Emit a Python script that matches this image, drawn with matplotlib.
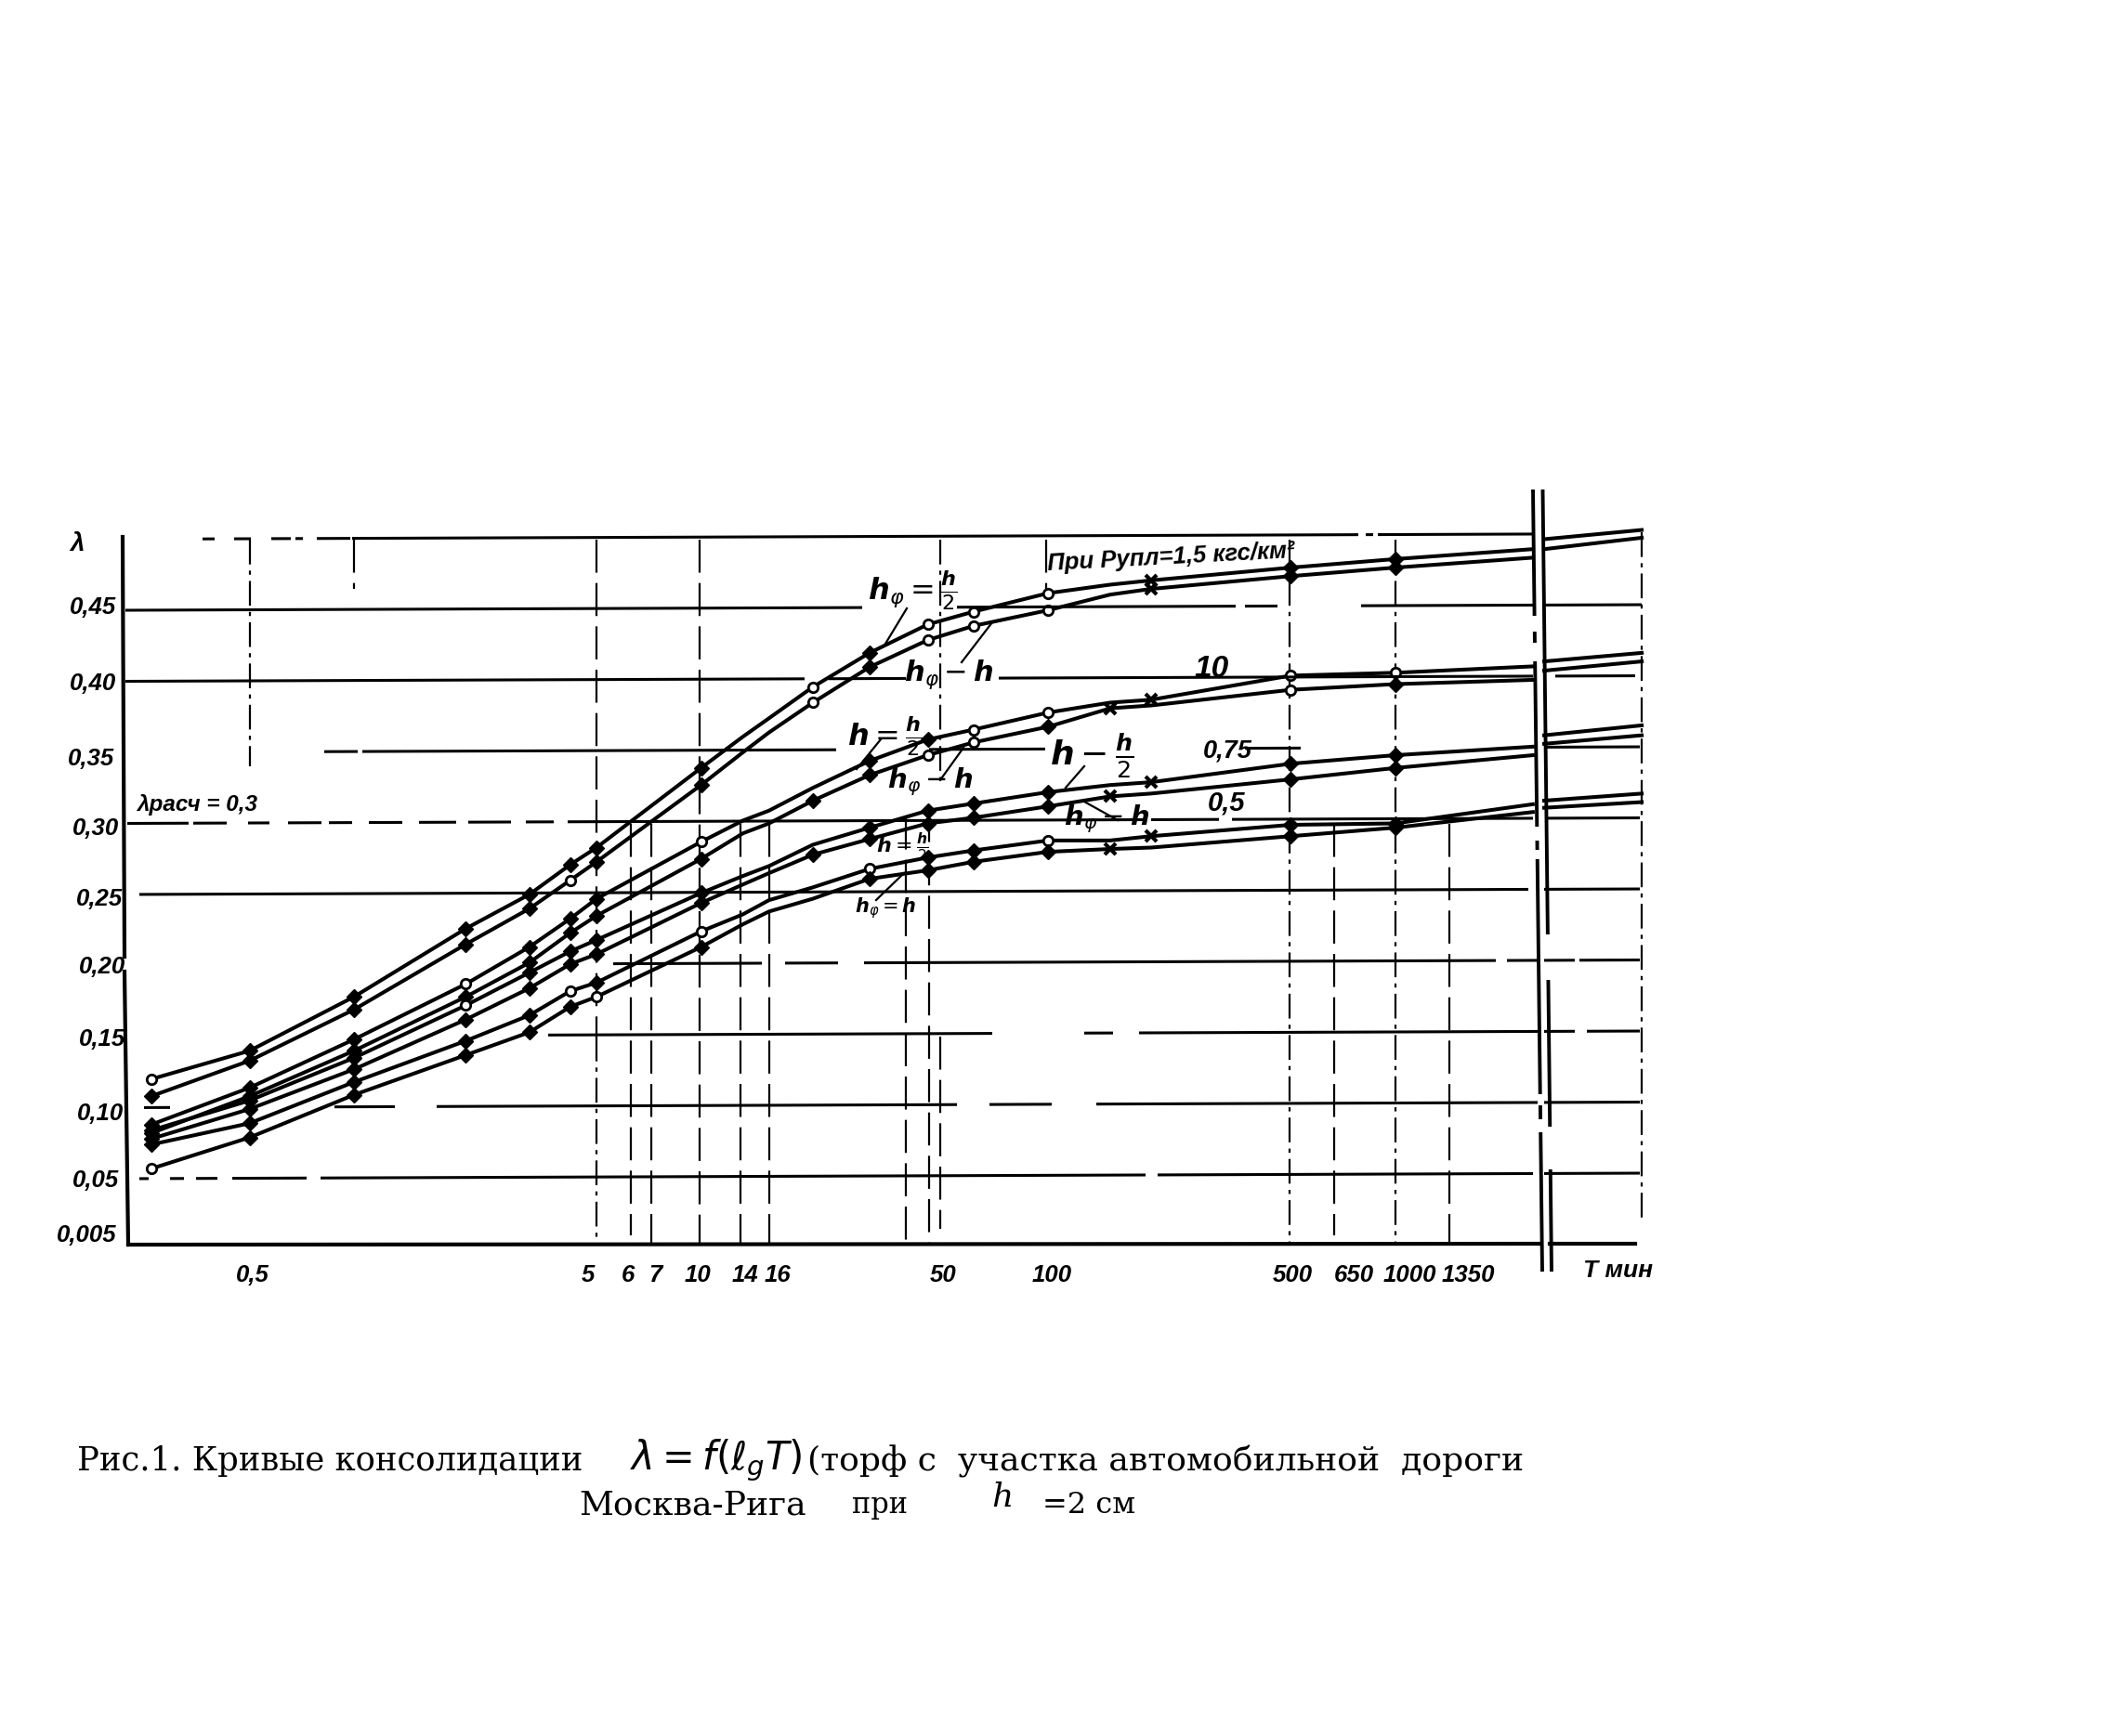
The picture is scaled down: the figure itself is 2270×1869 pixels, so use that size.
import numpy as np
import matplotlib
matplotlib.use("Agg")
import matplotlib.pyplot as plt

W, H = 2270, 1869
DPI = 100
plt.rcParams["mathtext.fontset"] = "dejavusans"

# time points (minutes) read at the marked columns of the chart
T = [0.26, 0.5, 1, 2.1, 3.2, 4.2, 5, 10, 13.2, 15.7, 21, 30.6, 45, 61, 100, 151, 198, 500, 1000, 2495]
T_after = [2690, 5140]

# lambda values: pairs of curves per pressure (h/2 upper, h lower)
a_up = [.120, .140, .178, .226, .250, .271, .283, .339, .361, .374, .396, .420, .440, .449, .462, .468, .471, .480, .486, .493]
a_lo = [.108, .133, .169, .215, .240, .260, .273, .327, .350, .364, .385, .410, .429, .439, .450, .461, .465, .474, .480, .487]
b_up = [.088, .114, .148, .187, .213, .233, .247, .287, .302, .309, .325, .344, .359, .366, .378, .385, .387, .404, .406, .4105]
b_lo = [.082, .108, .140, .178, .202, .223, .235, .275, .293, .300, .316, .334, .348, .357, .368, .381, .383, .394, .398, .401]
c_up = [.084, .105, .135, .172, .195, .210, .218, .251, .263, .270, .285, .297, .309, .314, .322, .327, .329, .342, .348, .354]
c_lo = [.078, .099, .127, .162, .184, .201, .208, .244, .257, .265, .278, .289, .300, .304, .312, .319, .321, .331, .339, .348]
d_up = [.074, .089, .118, .147, .165, .182, .188, .224, .236, .246, .255, .268, .276, .281, .288, .288, .291, .299, .300, .3135]
d_lo = [.057, .079, .109, .137, .153, .171, .178, .213, .229, .238, .247, .261, .267, .273, .280, .282, .283, .291, .297, .308]

# the piece right of the axis break
a_up2, a_lo2 = [.500, .5065], [.493, .501]
b_up2, b_lo2 = [.414, .420], [.4075, .414]
c_up2, c_lo2 = [.362, .369], [.356, .362]
d_up2, d_lo2 = [.316, .321], [.311, .315]

# marker per point: o open, D filled, x cross, - nothing
a_up_m = "oDDDDDDD--oDooo-xDD-"
a_lo_m = "DDDDDoDD--oDooo-xDD-"
b_up_m = "DDDoDDDo---DDoo-xoo-"
b_lo_m = "DDDDDDDD--DDooDx-oD-"
c_up_m = "DDDoDDDD---DDDD-xDD-"
c_lo_m = "DDDDDDDD--DDDDDx-DD-"
d_up_m = "DDDDDoDo---oDDo-xDD-"
d_lo_m = "oDDDDDoD---DDDDx-DD-"

y_labels = ["0,45", "0,40", "0,35", "0,30", "0,25", "0,20", "0,15", "0,10", "0,05", "0,005"]
x_labels = ["0,5", "5", "6", "7", "10", "14", "16", "50", "100", "500", "650", "1000", "1350"]

# horizontal rules: visible stretches in pixels, the drawing has many gaps
h_segs = {
    .50: [(218, 231), (252, 270), (292, 313), (318, 326), (341, 377), (379, 1462), (1470, 1478), (1483, 1650)],
    .45: [(135, 928), (1030, 1330), (1340, 1375), (1465, 1650), (1662, 1767)],
    .40: [(135, 866), (892, 975), (1075, 1300), (1300, 1650), (1674, 1760)],
    .35: [(349, 385), (390, 900), (1000, 1125), (1340, 1400), (1665, 1765)],
    .30: [(137, 203), (208, 244), (267, 290), (310, 346), (354, 379), (397, 433), (451, 491), (504, 550),
          (566, 596), (611, 1233), (1239, 1312), (1326, 1650), (1665, 1765)],
    .25: [(150, 1645), (1662, 1765)],
    .20: [(660, 820), (845, 902), (930, 1610), (1622, 1655), (1662, 1695), (1700, 1765)],
    .15: [(590, 1068), (1167, 1198), (1226, 1655), (1662, 1695), (1708, 1765)],
    .10: [(155, 183), (360, 425), (470, 1030), (1065, 1132), (1180, 1655), (1662, 1765)],
    .05: [(150, 160), (183, 198), (211, 234), (250, 330), (345, 1233), (1246, 1650), (1662, 1765)],
}

# vertical guide lines: T position, (lambda top, lambda bottom) stretches, dash-dot or not
v_T = [0.5, 1, 5, 5, 6.27, 7.19, 9.91, 9.91, 13, 15.7, 38.9, 45.4, 48.9, 48.9, 99, 496, 668, 1000, 1434, 5140]
v_top = [.50, .50, .50, .15, .30, .30, .50, .33, .30, .30, .305, .31, .50, .15, .50, .50, .30, .50, .30, .505]
v_bot = [.34, .465, .15, .003, .01, .003, .33, .003, .003, .003, .003, .003, .33, .015, .46, .003, .01, .003, .003, .02]
v_ddot = [1, 0, 0, 1, 0, 0, 0, 0, 0, 0, 0, 0, 1, 0, 0, 1, 0, 1, 0, 1]


def px_to_t(x):
    return 0.5 * 10 ** ((x - 268.6) / 373.5)


def px_to_lam(y):
    return (1345.5 - y) / 1530


fig = plt.figure(figsize=(W / DPI, H / DPI), dpi=DPI, facecolor="white")

# chart axes: log time against lambda
L, R, TOP, BOT = 100, 1800, 520, 1400
ax = fig.add_axes([L / W, 1 - BOT / H, (R - L) / W, (BOT - TOP) / H])
ax.set_xscale("log")
ax.set_xlim(px_to_t(L), px_to_t(R))
ax.set_ylim(px_to_lam(BOT), px_to_lam(TOP))
ax.axis("off")

# pixel overlay for rules, hand lettering and the caption
ov = fig.add_axes([0, 0, 1, 1], zorder=3)
ov.set_xlim(0, W)
ov.set_ylim(H, 0)
ov.axis("off")
ov.patch.set_alpha(0)


def rule_y(level, x):
    # the scan is slightly tilted
    return 1345.5 - 1530 * level - 6 * (x - 135) / 1640


for lev, segs in h_segs.items():
    for x0, x1 in segs:
        ov.plot([x0, x1], [rule_y(lev, x0), rule_y(lev, x1)], color="k", lw=2.2, solid_capstyle="butt")

for t, y0, y1, dd in zip(v_T, v_top, v_bot, v_ddot):
    ls = (0, (12, 3, 2, 3)) if dd else (0, (16, 5))
    ax.plot([t, t], [y0, y1], color="k", lw=1.6, ls=ls)

# axis lines
ov.plot([132, 134], [578, 1030], color="k", lw=3)
ov.plot([134, 138], [1046, 1340], color="k", lw=3)
ov.plot([138, 1658], [1340, 1339], color="k", lw=3)
ov.plot([1668, 1760], [1339, 1339], color="k", lw=3)

# axis break, two nearly vertical strokes with gaps
for x0, x1, gaps in [(1650, 1660, [(663, 680), (692, 712), (890, 905), (915, 925), (1178, 1190), (1205, 1219)]),
                     (1660.5, 1670, [(1006, 1055), (1213, 1259)])]:
    ys = [527] + [g for p in gaps for g in p] + [1369]
    for i in range(0, len(ys), 2):
        xa = x0 + (x1 - x0) * (ys[i] - 527) / 842
        xb = x0 + (x1 - x0) * (ys[i + 1] - 527) / 842
        ov.plot([xa, xb], [ys[i], ys[i + 1]], color="k", lw=2.8, solid_capstyle="butt")

# curves and markers
curves = [
    (a_up, a_up_m, a_up2), (a_lo, a_lo_m, a_lo2),
    (b_up, b_up_m, b_up2), (b_lo, b_lo_m, b_lo2),
    (c_up, c_up_m, c_up2), (c_lo, c_lo_m, c_lo2),
    (d_up, d_up_m, d_up2), (d_lo, d_lo_m, d_lo2),
]
t_arr = np.array(T)
for vals, marks, vals2 in curves:
    vals = np.array(vals)
    marks = np.array(list(marks))
    ax.plot(t_arr, vals, color="k", lw=2.9, zorder=4)
    ax.plot(T_after, vals2, color="k", lw=2.9, zorder=4)
    k = marks == "o"
    ax.plot(t_arr[k], vals[k], "o", ms=7.5, mfc="white", mec="k", mew=2, zorder=5)
    k = marks == "D"
    ax.plot(t_arr[k], vals[k], "D", ms=8.5, color="k", zorder=5)
    k = marks == "x"
    ax.plot(t_arr[k], vals[k], "x", ms=9, color="k", mew=3, zorder=5)

# hand lettering
HAND = "Liberation Sans"


def hand(x, y, s, size=18.5, ha="left", rot=0):
    ov.text(x, y, s, fontsize=size, family=HAND, style="italic", weight="bold", ha=ha, va="center", rotation=rot)


for s, x, y in zip(y_labels, [75, 75, 73, 78, 82, 85, 85, 83, 78, 61],
                   [654, 736, 817, 892, 968, 1041, 1119, 1199, 1271, 1330]):
    hand(x, y, s)
hand(75, 586, "λ", 20)
for s, x in zip(x_labels, [272, 633, 676, 705, 751, 802, 837, 1015, 1132, 1391, 1457, 1517, 1580]):
    hand(x, 1373, s, ha="center")
hand(1704, 1368, "T мин", 19)
hand(147, 866, "λрасч = 0,3", 17.5)
hand(1127, 600, "При Рупл=1,5 кгс/км²", 18.5, rot=3)
hand(1285, 720, "10", 24)
hand(1295, 808, "0,75", 19.5)
hand(1300, 864, "0,5", 21)


def hm(x, y, s, size=20):
    ov.text(x, y, s, fontsize=size, ha="left", va="center")


hm(934, 636, r"$\mathbfit{h}_{\varphi}=\frac{\mathbfit{h}}{2}$", 23)
hm(973, 726, r"$\mathbfit{h}_{\varphi}-\mathbfit{h}$", 22)
hm(912, 793, r"$\mathbfit{h}=\frac{\mathbfit{h}}{2}$", 23)
hm(955, 842, r"$\mathbfit{h}_{\varphi}-\mathbfit{h}$", 21)
hm(1130, 814, r"$\mathbfit{h}-\frac{\mathbfit{h}}{2}$", 26)
hm(1145, 882, r"$\mathbfit{h}_{\varphi}-\mathbfit{h}$", 21)
hm(943, 912, r"$\mathbfit{h}=\frac{\mathbfit{h}}{2}$", 16)
hm(920, 978, r"$\mathbfit{h}_{\varphi}=\mathbfit{h}$", 15)

# leaders from the labels to the curves
leaders_x = [(976, 953), (1068, 1035), (948, 922), (1037, 1014), (1167, 1147), (1167, 1203), (973, 943)]
leaders_y = [(655, 693), (670, 713), (796, 828), (805, 837), (825, 848), (863, 883), (940, 969)]
for lx, ly in zip(leaders_x, leaders_y):
    ov.plot(lx, ly, color="k", lw=1.6)

# caption
SERIF = "DejaVu Serif"
ov.text(83, 1573, "Рис.1. Кривые консолидации", fontsize=25.5, family=SERIF, ha="left", va="center")
ov.text(678, 1572, r"$\lambda=f(\ell_{g}T)$", fontsize=30, style="italic", ha="left", va="center")
ov.text(869, 1573, "(торф с  участка автомобильной  дороги", fontsize=26, family=SERIF, ha="left", va="center")
ov.text(623, 1620, "Москва-Рига", fontsize=26, family=SERIF, ha="left", va="center")
ov.text(917, 1620, "при", fontsize=22, family=SERIF, ha="left", va="center")
ov.text(1067, 1612, "h", fontsize=26, family=SERIF, style="italic", ha="left", va="center")
ov.text(1122, 1620, "=2 см", fontsize=23, family=SERIF, ha="left", va="center")

fig.savefig("out.png", dpi=DPI, facecolor="white")
